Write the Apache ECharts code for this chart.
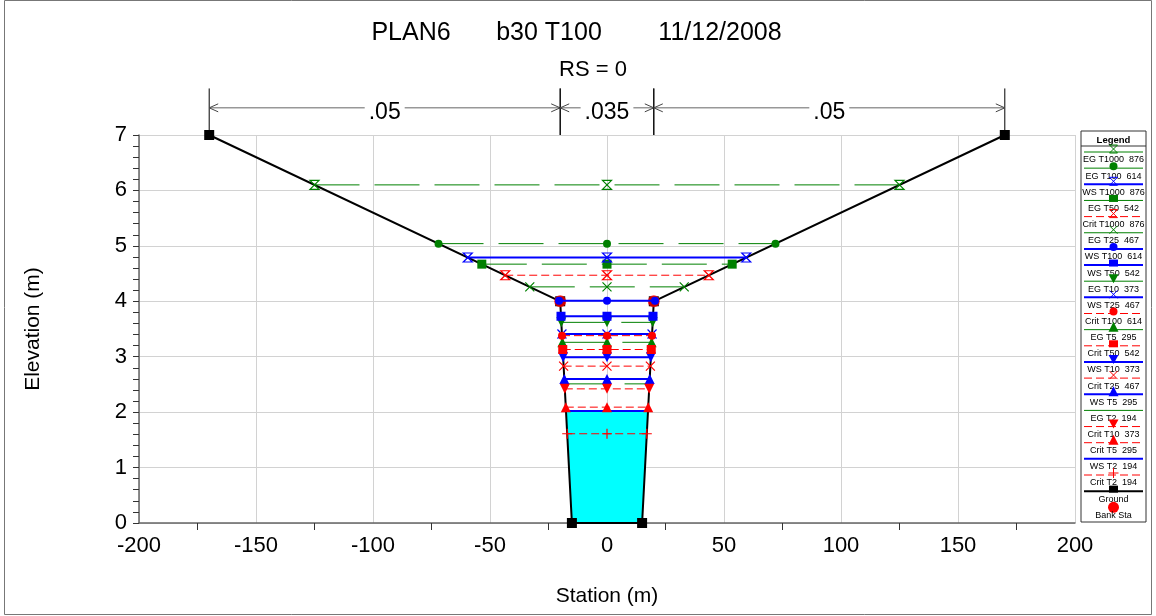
<!DOCTYPE html>
<html>
<head>
<meta charset="utf-8">
<script src="https://cdn.jsdelivr.net/npm/echarts@6/dist/echarts.min.js"></script>
<style>
  html, body { margin: 0; padding: 0; background: #fff; }
  #chart { width: 1156px; height: 616px; }
</style>
</head>
<body>
<div id="chart"></div>
<script>
// Cross-section ground points (station m, elevation m)
const groundStation = [-170, -20, -15, 15, 20, 170];
const groundElev = [7, 4, 0, 0, 4, 7];
const bankStation = [-20, 20];
const bankElev = [4, 4];

// Flow profiles, discharges and computed elevations
const profiles = ['T1000', 'T100', 'T50', 'T25', 'T10', 'T5', 'T2'];
const flows = [876, 614, 542, 467, 373, 295, 194];
const wsElev = [4.79, 4.01, 3.73, 3.41, 2.99, 2.60, 2.02];
const egElev = [6.10, 5.04, 4.67, 4.26, 3.62, 3.26, 2.51];
const critElev = [4.47, 3.38, 3.13, 2.83, 2.42, 2.09, 1.61];

// Manning's n reaches: left overbank, main channel, right overbank
const nStations = [-170, -20, 20, 170];
const nValues = ['.05', '.035', '.05'];

// Axis ticks
const xTicks = { min: -200, max: 200, step: 50 };
const yTicks = { min: 0, max: 7, step: 1 };

// Title pieces
const titleParts = ['PLAN6', 'b30 T100', '11/12/2008'];
const subTitle = 'RS = 0';

// Legend order, top to bottom
const legendOrder = ['EG T1000', 'EG T100', 'WS T1000', 'EG T50', 'Crit T1000', 'EG T25',
  'WS T100', 'WS T50', 'EG T10', 'WS T25', 'Crit T100', 'EG T5', 'Crit T50', 'WS T10',
  'Crit T25', 'WS T5', 'EG T2', 'Crit T10', 'Crit T5', 'WS T2', 'Crit T2', 'Ground', 'Bank Sta'];

const FONT = '"Liberation Sans", Arial, sans-serif';

const kindStyle = {
  EG:   { color: '#008000', width: 1, type: [45, 15] },
  WS:   { color: '#0000ff', width: 2, type: 'solid' },
  Crit: { color: '#ff0000', width: 1, type: [8, 4] }
};

// marker shape per profile
const profileMarker = { T1000: 'hourglass', T100: 'circle', T50: 'square', T25: 'x', T10: 'down', T5: 'up', T2: null };

const symbolDefs = {
  hourglass: { symbol: 'path://M0,0L10,0L0,10L10,10Z', size: 9, hollow: true },
  circle:    { symbol: 'circle', size: 8, hollow: false },
  square:    { symbol: 'rect', size: 9, hollow: false },
  x:         { symbol: 'path://M0,0L10,10M10,0L0,10', size: 9, hollow: true },
  down:      { symbol: 'path://M0,0L10,0L5,10Z', size: 10, hollow: false },
  up:        { symbol: 'triangle', size: 10, hollow: false },
  plus:      { symbol: 'path://M5,0L5,10M0,5L10,5', size: 10, hollow: true }
};

function markerFor(kind, prof) {
  if (prof === 'T2') return kind === 'Crit' ? 'plus' : null;
  return profileMarker[prof];
}

// station where a level meets the ground on the left / right bank
function groundX(e, side) {
  const n = groundStation.length;
  if (side === 'left') {
    for (let i = 0; i < n - 1; i++) {
      const a = groundElev[i], b = groundElev[i + 1];
      if (a >= e && b <= e && a !== b) {
        return groundStation[i] + (a - e) / (a - b) * (groundStation[i + 1] - groundStation[i]);
      }
    }
  } else {
    for (let i = n - 1; i > 0; i--) {
      const a = groundElev[i], b = groundElev[i - 1];
      if (a >= e && b <= e && a !== b) {
        return groundStation[i] - (a - e) / (a - b) * (groundStation[i] - groundStation[i - 1]);
      }
    }
  }
  return 0;
}

function surfaceSeries(kind, idx, z) {
  const prof = profiles[idx];
  const e = kind === 'WS' ? wsElev[idx] : kind === 'EG' ? egElev[idx] : critElev[idx];
  const st = kindStyle[kind];
  const m = markerFor(kind, prof);
  const def = m ? symbolDefs[m] : null;
  return {
    name: kind + ' ' + prof,
    type: 'line',
    z: z,
    silent: true,
    animation: false,
    data: [[groundX(e, 'left'), e], [0, e], [groundX(e, 'right'), e]],
    symbol: def ? def.symbol : 'none',
    symbolSize: def ? def.size : 0,
    showSymbol: !!def,
    showAllSymbol: true,
    lineStyle: { color: st.color, width: st.width, type: st.type },
    itemStyle: def && def.hollow
      ? { color: 'rgba(0,0,0,0)', borderColor: st.color, borderWidth: 1.2 }
      : { color: st.color, borderWidth: 0 }
  };
}

const series = [];

// water in the channel up to the lowest water surface
series.push({
  type: 'custom',
  z: 1,
  silent: true,
  animation: false,
  data: [[0, wsElev[wsElev.length - 1]]],
  renderItem: function (params, api) {
    const e = api.value(1);
    const xl = groundX(e, 'left'), xr = groundX(e, 'right');
    const pts = [api.coord([xl, e])];
    for (let i = 0; i < groundStation.length; i++) {
      if (groundStation[i] > xl && groundStation[i] < xr && groundElev[i] < e) {
        pts.push(api.coord([groundStation[i], groundElev[i]]));
      }
    }
    pts.push(api.coord([xr, e]));
    return { type: 'polygon', shape: { points: pts }, style: { fill: '#00ffff' } };
  }
});

// ground profile
series.push({
  name: 'Ground',
  type: 'line',
  z: 2,
  silent: true,
  animation: false,
  data: groundStation.map((s, i) => [s, groundElev[i]]),
  symbol: 'rect',
  symbolSize: 10,
  showAllSymbol: true,
  lineStyle: { color: '#000', width: 2 },
  itemStyle: { color: '#000' }
});

// bank stations
series.push({
  name: 'Bank Sta',
  type: 'scatter',
  z: 3,
  silent: true,
  animation: false,
  data: bankStation.map((s, i) => [s, bankElev[i]]),
  symbol: 'circle',
  symbolSize: 12,
  itemStyle: { color: '#ff0000' }
});

['EG', 'WS', 'Crit'].forEach((kind, k) => {
  profiles.forEach((p, i) => series.push(surfaceSeries(kind, i, 4 + k)));
});

// Manning's n dimension lines above the section
series.push({
  type: 'custom',
  z: 8,
  silent: true,
  animation: false,
  clip: false,
  data: nValues.map((v, i) => [nStations[i], nStations[i + 1], i]),
  renderItem: function (params, api) {
    const x0 = api.value(0), x1 = api.value(1), k = api.value(2);
    const top = api.coord([x0, 7.84])[1];
    const base = api.coord([x0, 7])[1];
    const yl = api.coord([x0, 7.49])[1];
    const a = api.coord([x0, 7])[0], b = api.coord([x1, 7])[0];
    const mid = (a + b) / 2;
    return {
      type: 'group',
      children: [
        { type: 'line', shape: { x1: a, y1: top, x2: a, y2: base }, style: { stroke: '#000', lineWidth: 1 } },
        { type: 'line', shape: { x1: b, y1: top, x2: b, y2: base }, style: { stroke: '#000', lineWidth: 1 } },
        { type: 'line', shape: { x1: a, y1: yl, x2: b, y2: yl }, style: { stroke: '#666', lineWidth: 1 } },
        { type: 'polyline', shape: { points: [[a + 9, yl - 4], [a, yl], [a + 9, yl + 4]] }, style: { stroke: '#444', fill: null, lineWidth: 1 } },
        { type: 'polyline', shape: { points: [[b - 9, yl - 4], [b, yl], [b - 9, yl + 4]] }, style: { stroke: '#444', fill: null, lineWidth: 1 } },
        { type: 'text', x: mid, y: yl + 5, style: { text: nValues[k], fontSize: 23, fontFamily: FONT, fill: '#000', align: 'center', verticalAlign: 'middle', backgroundColor: '#fff', padding: [0, 4] } }
      ]
    };
  }
});

// legend drawn as a boxed list with the sample above each label
function legendGraphics() {
  const L = 1081, R = 1146, T = 131, B = 522;
  const items = [
    { type: 'rect', shape: { x: L, y: T, width: R - L, height: B - T }, style: { fill: '#fff', stroke: '#333', lineWidth: 1 } },
    { type: 'text', x: (L + R) / 2, y: 140, style: { text: 'Legend', fontSize: 9.5, fontWeight: 'bold', fontFamily: FONT, fill: '#000', align: 'center', verticalAlign: 'middle' } },
    { type: 'line', shape: { x1: L, y1: 146, x2: R, y2: 146 }, style: { stroke: '#333', lineWidth: 1 } }
  ];
  const cx = (L + R) / 2;
  legendOrder.forEach((name, i) => {
    const y = 152 + i * 16.15;
    const parts = name.split(' ');
    const kind = parts[0], prof = parts[1];
    let label = name;
    let color = '#000', lw = 2, dash = null, marker = null;
    if (kindStyle[kind]) {
      const idx = profiles.indexOf(prof);
      label = name + '  ' + flows[idx];
      color = kindStyle[kind].color;
      lw = kindStyle[kind].width;
      dash = kind === 'Crit' ? [8, 4] : null;
      marker = markerFor(kind, prof);
    } else if (name === 'Ground') {
      marker = 'square';
    }
    if (name !== 'Bank Sta') {
      items.push({ type: 'line', shape: { x1: L + 3, y1: y, x2: R - 3, y2: y }, style: { stroke: color, lineWidth: lw, lineDash: dash } });
    }
    const my = y - 2, s = 4.5;
    if (name === 'Bank Sta') {
      items.push({ type: 'circle', shape: { cx: cx, cy: y, r: 5.5 }, style: { fill: '#ff0000' } });
    } else if (marker === 'circle') {
      items.push({ type: 'circle', shape: { cx: cx, cy: my, r: 4 }, style: { fill: color } });
    } else if (marker === 'square') {
      items.push({ type: 'rect', shape: { x: cx - s, y: my - s + 1, width: 2 * s, height: 2 * s - 2 }, style: { fill: color } });
    } else if (marker === 'up') {
      items.push({ type: 'polygon', shape: { points: [[cx - 5, my + 4], [cx + 5, my + 4], [cx, my - 6]] }, style: { fill: color } });
    } else if (marker === 'down') {
      items.push({ type: 'polygon', shape: { points: [[cx - 5, my - 5], [cx + 5, my - 5], [cx, my + 4]] }, style: { fill: color } });
    } else if (marker === 'hourglass') {
      items.push({ type: 'polygon', shape: { points: [[cx - 4, my - 5], [cx + 4, my - 5], [cx - 4, my + 3], [cx + 4, my + 3]] }, style: { fill: null, stroke: color, lineWidth: 1 } });
    } else if (marker === 'x') {
      items.push({ type: 'polyline', shape: { points: [[cx - 4, my - 5], [cx + 4, my + 3]] }, style: { stroke: color, lineWidth: 1 } });
      items.push({ type: 'polyline', shape: { points: [[cx + 4, my - 5], [cx - 4, my + 3]] }, style: { stroke: color, lineWidth: 1 } });
    } else if (marker === 'plus') {
      items.push({ type: 'polyline', shape: { points: [[cx, my - 5], [cx, my + 5]] }, style: { stroke: color, lineWidth: 1 } });
      items.push({ type: 'polyline', shape: { points: [[cx - 5, my], [cx + 5, my]] }, style: { stroke: color, lineWidth: 1 } });
    }
    items.push({ type: 'text', x: cx, y: y + 8, style: { text: label, fontSize: 9, fontFamily: FONT, fill: '#000', align: 'center', verticalAlign: 'middle' } });
  });
  return items;
}

const chart = echarts.init(document.getElementById('chart'), null, { renderer: 'canvas' });

const titleX = [411, 549, 720];

chart.setOption({
  animation: false,
  backgroundColor: '#fff',
  grid: { left: 139, right: 81, top: 135, bottom: 93, containLabel: false },
  xAxis: {
    type: 'value',
    min: xTicks.min, max: xTicks.max, interval: xTicks.step,
    axisLine: { show: true, onZero: false, lineStyle: { color: '#666', width: 1.5 } },
    axisTick: { show: false },
    minorTick: { show: true, splitNumber: 2, length: 7, lineStyle: { color: '#333' } },
    splitLine: { show: true, lineStyle: { color: '#d2d2d2', width: 1 } },
    axisLabel: { fontSize: 22, color: '#000', margin: 12, fontFamily: FONT },
    name: 'Station (m)', nameLocation: 'middle', nameGap: 63,
    nameTextStyle: { fontSize: 21, color: '#000', fontFamily: FONT }
  },
  yAxis: {
    type: 'value',
    min: yTicks.min, max: yTicks.max, interval: yTicks.step,
    axisLine: { show: true, onZero: false, lineStyle: { color: '#666', width: 1.5 } },
    axisTick: { show: true, length: 6, lineStyle: { color: '#333' } },
    minorTick: { show: true, splitNumber: 5, length: 6, lineStyle: { color: '#333' } },
    splitLine: { show: true, lineStyle: { color: '#d2d2d2', width: 1 } },
    axisLabel: { fontSize: 22, color: '#000', margin: 12, fontFamily: FONT },
    name: 'Elevation (m)', nameLocation: 'middle', nameGap: 95, nameRotate: 90,
    nameTextStyle: { fontSize: 21, color: '#000', fontFamily: FONT }
  },
  graphic: [
    { type: 'rect', shape: { x: 4.5, y: 0.5, width: 1147, height: 614 }, style: { fill: null, stroke: '#777', lineWidth: 1 }, silent: true },
    { type: 'text', x: 593, y: 70, style: { text: subTitle, fontSize: 22, fontFamily: FONT, fill: '#000', align: 'center', verticalAlign: 'middle' } }
  ].concat(titleParts.map((t, i) => ({
    type: 'text', x: titleX[i], y: 33,
    style: { text: t, fontSize: 25, fontFamily: FONT, fill: '#000', align: 'center', verticalAlign: 'middle' }
  }))).concat(legendGraphics()),
  series: series
});
</script>
</body>
</html>
